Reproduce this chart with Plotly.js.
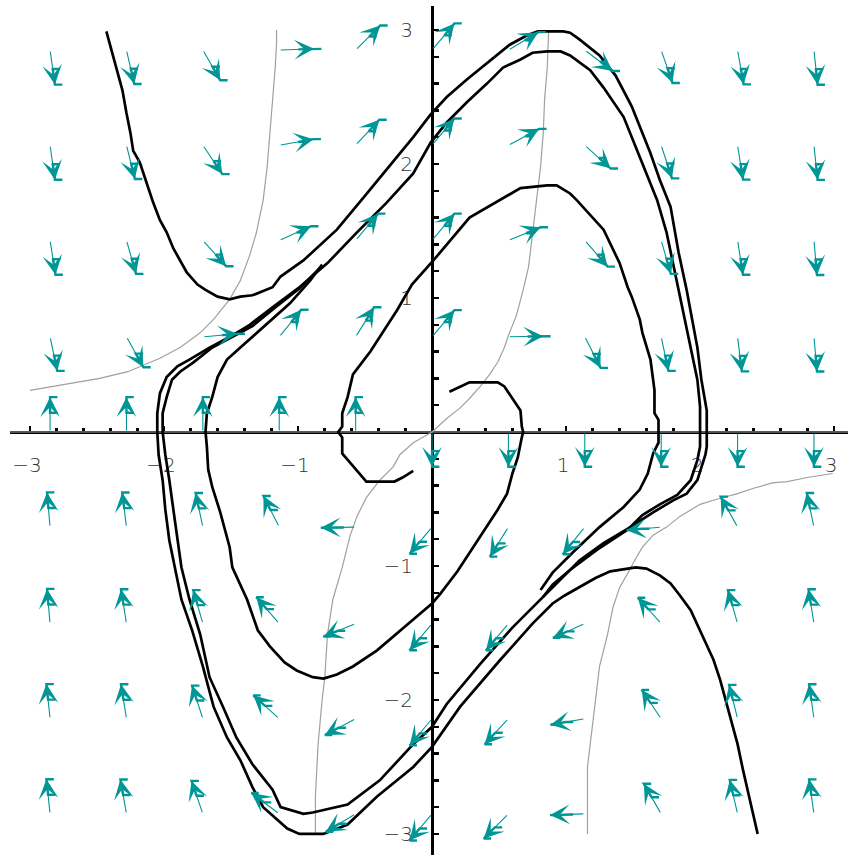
<!DOCTYPE html>
<html>
<head>
<meta charset="utf-8">
<script src="https://cdn.plot.ly/plotly-3.0.1.min.js"></script>
<style>html,body{margin:0;padding:0;background:#fff;}#chart{width:850px;height:857px;}</style>
</head>
<body>
<div id="chart"></div>
<script>
// ---- direction field (grid and arrow angles in degrees) ----
const fieldX = [-2.85, -2.28, -1.71, -1.14, -0.57, 0, 0.57, 1.14, 1.71, 2.28, 2.85];
const fieldY = [2.85, 2.14, 1.43, 0.71, 0, -0.71, -1.43, -2.14, -2.85];
const fieldAngles = [
  [-82, -77, -60, 2, 45, 50, 31, -37, -71, -80, -84],
  [-82, -76, -56, 10, 47, 50, 28, -42, -72, -81, -84],
  [-81, -74, -48, 24, 50, 50, 22, -49, -74, -81, -85],
  [-78, -61, 5, 51, 58, 50, 1, -63, -78, -83, -85],
  [90, 90, 90, 90, 90, -90, -90, -90, -90, -90, -90],
  [95, 97, 102, 117, 181, 230, 238, 231, 185, 119, 102],
  [95, 99, 106, 131, 202, 230, 230, 204, 132, 106, 99],
  [96, 99, 108, 138, 208, 230, 227, 190, 124, 104, 98],
  [96, 100, 109, 143, 211, 230, 225, 182, 120, 103, 98]
];

// ---- trajectories ([x, y] pairs) ----
const trajA = [[-2.43,2.99],[-2.39,2.85],[-2.35,2.70],[-2.31,2.55],[-2.28,2.38],[-2.25,2.23],[-2.23,2.10],[-2.18,2.01],[-2.13,1.86],[-2.08,1.71],[-2.03,1.58],[-1.98,1.49],[-1.93,1.37],[-1.88,1.28],[-1.83,1.19],[-1.75,1.10],[-1.69,1.06],[-1.60,1.01],[-1.51,0.99],[-1.43,1.01],[-1.34,1.02],[-1.19,1.08],[-1.13,1.16],[-0.96,1.28],[-0.71,1.51],[-0.51,1.75],[-0.31,1.99],[-0.14,2.20],[-0.01,2.37],[0.11,2.50],[0.26,2.63],[0.41,2.75],[0.58,2.89],[0.71,2.96],[0.79,2.99],[0.98,2.99],[1.03,2.98],[1.10,2.93],[1.25,2.81],[1.37,2.66],[1.49,2.43],[1.63,2.08],[1.70,1.88],[1.78,1.68],[1.81,1.51],[1.84,1.34],[1.90,1.06],[1.93,0.89],[1.98,0.63],[2.01,0.39],[2.05,0.16],[2.05,-0.11],[2.04,-0.17],[1.98,-0.36],[1.90,-0.46],[1.80,-0.51],[1.65,-0.60],[1.48,-0.71],[1.28,-0.83],[1.10,-0.96],[0.96,-1.10],[0.81,-1.25],[0.60,-1.46],[0.36,-1.73],[0.11,-2.03],[0,-2.20],[-0.14,-2.33],[-0.39,-2.60],[-0.63,-2.78],[-0.89,-2.84],[-0.96,-2.85],[-1.13,-2.80],[-1.19,-2.67],[-1.34,-2.48],[-1.46,-2.28],[-1.56,-2.05],[-1.66,-1.83],[-1.73,-1.51],[-1.81,-1.25],[-1.87,-1.01],[-1.90,-0.81],[-1.93,-0.58],[-1.96,-0.36],[-1.99,-0.17],[-2.01,0],[-2.01,0.14],[-1.98,0.26],[-1.94,0.39],[-1.88,0.45],[-1.78,0.52],[-1.64,0.63],[-1.47,0.72],[-1.34,0.79],[-1.17,0.93],[-0.99,1.07],[-0.84,1.22]];
const trajB = [[2.43,-3.00],[2.37,-2.75],[2.32,-2.52],[2.28,-2.33],[2.22,-2.10],[2.15,-1.85],[2.10,-1.70],[2.02,-1.53],[1.93,-1.33],[1.85,-1.22],[1.78,-1.13],[1.70,-1.07],[1.60,-1.02],[1.52,-1.01],[1.46,-1.02],[1.33,-1.04],[1.22,-1.09],[1.10,-1.16],[0.99,-1.22],[0.90,-1.28],[0.75,-1.43],[0.51,-1.70],[0.21,-2.05],[0,-2.35],[-0.14,-2.50],[-0.41,-2.72],[-0.63,-2.93],[-0.81,-3.00],[-0.99,-3.00],[-1.08,-2.96],[-1.19,-2.86],[-1.26,-2.80],[-1.34,-2.65],[-1.43,-2.45],[-1.53,-2.28],[-1.63,-2.05],[-1.71,-1.75],[-1.79,-1.48],[-1.87,-1.25],[-1.92,-1.01],[-1.96,-0.81],[-1.99,-0.58],[-2.01,-0.36],[-2.04,-0.17],[-2.05,0],[-2.05,0.14],[-2.03,0.29],[-1.98,0.41],[-1.90,0.49],[-1.81,0.54],[-1.66,0.63],[-1.49,0.72],[-1.36,0.80],[-1.19,0.93],[-0.99,1.08],[-0.78,1.26],[-0.56,1.49],[-0.34,1.71],[-0.14,1.93],[-0.01,2.16],[0.11,2.31],[0.26,2.46],[0.41,2.60],[0.53,2.72],[0.66,2.78],[0.75,2.83],[0.86,2.84],[0.96,2.84],[1.03,2.81],[1.18,2.70],[1.28,2.57],[1.43,2.35],[1.53,2.10],[1.68,1.73],[1.75,1.49],[1.84,1.06],[1.87,0.89],[1.93,0.63],[1.98,0.39],[2.00,0.19],[2.00,-0.11],[1.98,-0.21],[1.93,-0.36],[1.83,-0.47],[1.70,-0.54],[1.57,-0.62],[1.46,-0.73],[1.23,-0.88],[1.03,-1.03],[0.90,-1.14],[0.83,-1.23]];
const trajC = [[0.13,0.30],[0.21,0.34],[0.28,0.37],[0.49,0.37],[0.54,0.34],[0.60,0.25],[0.66,0.16],[0.67,0.04],[0.68,0],[0.67,-0.04],[0.64,-0.19],[0.60,-0.31],[0.56,-0.46],[0.49,-0.58],[0.36,-0.78],[0.26,-0.93],[0.19,-1.04],[0.06,-1.21],[0,-1.28],[-0.14,-1.40],[-0.29,-1.53],[-0.41,-1.63],[-0.59,-1.75],[-0.71,-1.81],[-0.81,-1.84],[-0.89,-1.83],[-1.01,-1.78],[-1.10,-1.72],[-1.21,-1.60],[-1.30,-1.48],[-1.38,-1.25],[-1.49,-1.01],[-1.51,-0.86],[-1.58,-0.60],[-1.64,-0.41],[-1.67,-0.28],[-1.68,-0.11],[-1.69,0],[-1.68,0.14],[-1.64,0.26],[-1.60,0.41],[-1.53,0.54],[-1.43,0.63],[-1.23,0.81],[-1.06,0.96],[-0.91,1.13],[-0.82,1.25]];
const trajD = [[-0.14,-0.29],[-0.22,-0.34],[-0.28,-0.37],[-0.49,-0.37],[-0.61,-0.23],[-0.67,-0.16],[-0.67,-0.04],[-0.70,0],[-0.67,0.04],[-0.67,0.14],[-0.63,0.26],[-0.59,0.43],[-0.46,0.60],[-0.26,0.91],[-0.15,1.10],[0.01,1.28],[0.28,1.60],[0.66,1.82],[0.86,1.84],[0.93,1.84],[1.03,1.78],[1.08,1.73],[1.28,1.51],[1.40,1.26],[1.46,1.08],[1.49,1.01],[1.55,0.84],[1.57,0.74],[1.63,0.54],[1.66,0.31],[1.66,0.14],[1.69,0.09],[1.69,-0.08],[1.65,-0.16],[1.61,-0.31],[1.55,-0.43],[1.43,-0.56],[1.25,-0.71],[1.05,-0.90],[0.90,-1.05],[0.81,-1.18]];

// ---- nullclines (grey) ----
const nullMid = [[0.87,2.99],[0.86,2.72],[0.84,2.48],[0.83,2.23],[0.81,1.98],[0.78,1.73],[0.75,1.49],[0.72,1.23],[0.68,1.06],[0.63,0.87],[0.57,0.72],[0.54,0.63],[0.49,0.52],[0.43,0.43],[0.36,0.34],[0.28,0.25],[0.21,0.18],[0.11,0.10],[0,0],[-0.14,-0.08],[-0.24,-0.17],[-0.29,-0.26],[-0.39,-0.36],[-0.49,-0.49],[-0.56,-0.63],[-0.61,-0.77],[-0.67,-1.01],[-0.74,-1.25],[-0.78,-1.51],[-0.80,-1.83],[-0.82,-2.00],[-0.85,-2.33],[-0.87,-2.72],[-0.87,-3.00]];
const nullLeft = [[-1.16,3.00],[-1.16,2.90],[-1.17,2.72],[-1.19,2.48],[-1.21,2.23],[-1.23,1.98],[-1.26,1.73],[-1.31,1.49],[-1.36,1.32],[-1.43,1.13],[-1.51,0.99],[-1.63,0.84],[-1.73,0.74],[-1.88,0.63],[-2.03,0.55],[-2.13,0.51],[-2.27,0.45],[-2.48,0.40],[-2.65,0.37],[-2.83,0.34],[-3.00,0.31]];
const nullRight = [[2.99,-0.31],[2.80,-0.34],[2.65,-0.37],[2.54,-0.38],[2.40,-0.42],[2.28,-0.46],[2.13,-0.50],[2.00,-0.54],[1.85,-0.63],[1.75,-0.71],[1.65,-0.77],[1.57,-0.86],[1.50,-0.98],[1.48,-1.02],[1.40,-1.16],[1.35,-1.31],[1.31,-1.51],[1.25,-1.75],[1.22,-2.00],[1.19,-2.25],[1.16,-2.50],[1.16,-2.75],[1.16,-3.00]];
const nullAxis = [[-3.15,0],[3.12,0]];

// ---- axis ticks ----
const xTickVals = [-3, -2, -1, 1, 2, 3];
const xTickText = ['\u22123', '\u22122', '\u22121', '1', '2', '3'];
const yTickVals = [-3, -2, -1, 1, 2, 3];
const yTickText = ['\u22123', '\u22122', '\u22121', '1', '2', '3'];

const minorVals = [];
for (let k = -15; k <= 15; k++) { if (k % 5 !== 0) minorVals.push(+(k * 0.2).toFixed(2)); }

const xs = p => p.map(d => d[0]);
const ys = p => p.map(d => d[1]);

const traces = [];
[nullMid, nullLeft, nullRight].forEach(p => traces.push({
  x: xs(p), y: ys(p), mode: 'lines', line: {color: '#a0a0a0', width: 1.2}, hoverinfo: 'skip'
}));
traces.push({x: xs(nullAxis), y: ys(nullAxis), mode: 'lines', line: {color: '#a8a8a8', width: 1}, hoverinfo: 'skip'});
[trajA, trajB, trajC, trajD].forEach(p => traces.push({
  x: xs(p), y: ys(p), mode: 'lines', line: {color: '#000', width: 2.7}, hoverinfo: 'skip'
}));

// arrow styling: length, head fraction and the small side bracket of each head
const L = 0.26, HEAD = 0.55, BAR = 0.055;
const annotations = [];
const brX = [], brY = [];
fieldY.forEach((yv, i) => {
  fieldX.forEach((xv, j) => {
    const a = fieldAngles[i][j] * Math.PI / 180;
    const c = Math.cos(a), s = Math.sin(a);
    const tx = xv + L * c, ty = yv + L * s;
    const bx = xv + HEAD * L * c, by = yv + HEAD * L * s;
    annotations.push({
      x: tx, y: ty, ax: xv, ay: yv, xref: 'x', yref: 'y', axref: 'x', ayref: 'y',
      text: '', showarrow: true, arrowhead: 3, arrowsize: 3, arrowwidth: 1.1,
      arrowcolor: '#009696', standoff: 0, startstandoff: 0
    });
    brX.push(bx + BAR, bx, tx, tx + BAR, null);
    brY.push(by, by, ty, ty, null);
  });
});
traces.push({x: brX, y: brY, mode: 'lines', line: {color: '#009696', width: 2.4}, hoverinfo: 'skip', connectgaps: false});

const tickFont = {family: 'DejaVu Sans', size: 20, color: '#333', weight: 300};
const xr = [-3.149, 3.104], yr = [-3.157, 3.179];
const layout = {
  width: 850, height: 857,
  margin: {l: 10, r: 2, t: 6, b: 2, pad: 0},
  paper_bgcolor: '#fff', plot_bgcolor: '#fff',
  showlegend: false,
  xaxis: {
    range: xr, anchor: 'free', position: (0 - yr[0]) / (yr[1] - yr[0]),
    showline: true, linecolor: '#000', linewidth: 3, layer: 'below traces',
    showgrid: false, zeroline: false,
    tickmode: 'array', tickvals: xTickVals, ticktext: xTickText,
    ticks: 'inside', ticklen: 5, tickwidth: 2.5, tickcolor: '#000',
    minor: {tickmode: 'array', tickvals: minorVals, ticks: 'inside', ticklen: 3, tickwidth: 3, tickcolor: '#000', showgrid: false},
    tickfont: tickFont, ticklabelstandoff: 14, ticklabelshift: -3, fixedrange: true
  },
  yaxis: {
    range: yr, anchor: 'free', position: (0 - xr[0]) / (xr[1] - xr[0]),
    showline: true, linecolor: '#000', linewidth: 3, layer: 'below traces',
    showgrid: false, zeroline: false,
    tickmode: 'array', tickvals: yTickVals, ticktext: yTickText,
    ticks: 'inside', ticklen: 5, tickwidth: 2.5, tickcolor: '#000',
    minor: {tickmode: 'array', tickvals: minorVals, ticks: 'inside', ticklen: 5, tickwidth: 2.5, tickcolor: '#000', showgrid: false},
    tickfont: tickFont, ticklabelstandoff: 14, fixedrange: true
  },
  annotations: annotations
};

Plotly.newPlot('chart', traces, layout, {staticPlot: true, displayModeBar: false});
</script>
</body>
</html>
